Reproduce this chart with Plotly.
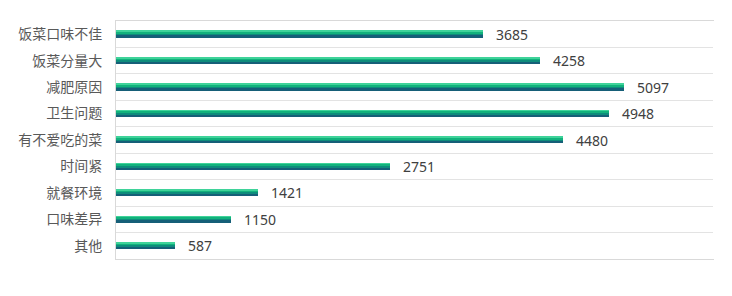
import plotly.graph_objects as go

categories = ["饭菜口味不佳", "饭菜分量大", "减肥原因", "卫生问题", "有不爱吃的菜",
              "时间紧", "就餐环境", "口味差异", "其他"]
values = [3685, 4258, 5097, 4948, 4480, 2751, 1421, 1150, 587]

strip_colors = ["#3fd39a", "#12b27c", "#0e8c7b", "#165f78"]
n = len(categories)
ypos = list(range(n))
total_w = 0.25
sw = total_w / len(strip_colors)

fig = go.Figure()
for k, c in enumerate(strip_colors):
    fig.add_trace(go.Bar(
        x=values, y=ypos, orientation="h",
        width=[sw + 0.004] * n, offset=[-total_w / 2 + k * sw] * n,
        marker=dict(color=c, line=dict(width=0)),
        hoverinfo="skip", showlegend=False,
    ))

for i, v in enumerate(values):
    fig.add_annotation(x=v, y=i, text=str(v), showarrow=False,
                       xanchor="left", yanchor="middle", xshift=11,
                       font=dict(size=14, color="#404040",
                                 family="Noto Sans, Noto Sans CJK SC"))

fig.update_layout(
    width=732, height=296,
    margin=dict(l=116, r=18, t=21, b=37),
    paper_bgcolor="white", plot_bgcolor="white",
    barmode="overlay", bargap=0,
    font=dict(family="Noto Sans CJK SC", size=14, color="#595959"),
)
fig.update_xaxes(range=[0, 6000], showgrid=False, showticklabels=False,
                 zeroline=False, showline=True, linecolor="#d9d9d9",
                 linewidth=1, mirror=True, ticks="")
fig.update_yaxes(range=[n - 0.5, -0.5], tickvals=ypos, ticktext=categories,
                 showgrid=False, zeroline=False, ticks="", ticklabelstandoff=10,
                 showline=True, linecolor="#d9d9d9", linewidth=1,
                 minor=dict(tickvals=[i + 0.5 for i in range(n - 1)],
                            showgrid=True, gridcolor="#e3e3e3", gridwidth=1,
                            ticks=""))
fig.add_shape(type="line", xref="paper", yref="paper", x0=1, x1=1, y0=0, y1=1,
              line=dict(color="white", width=2))

fig.write_html("out.html")
